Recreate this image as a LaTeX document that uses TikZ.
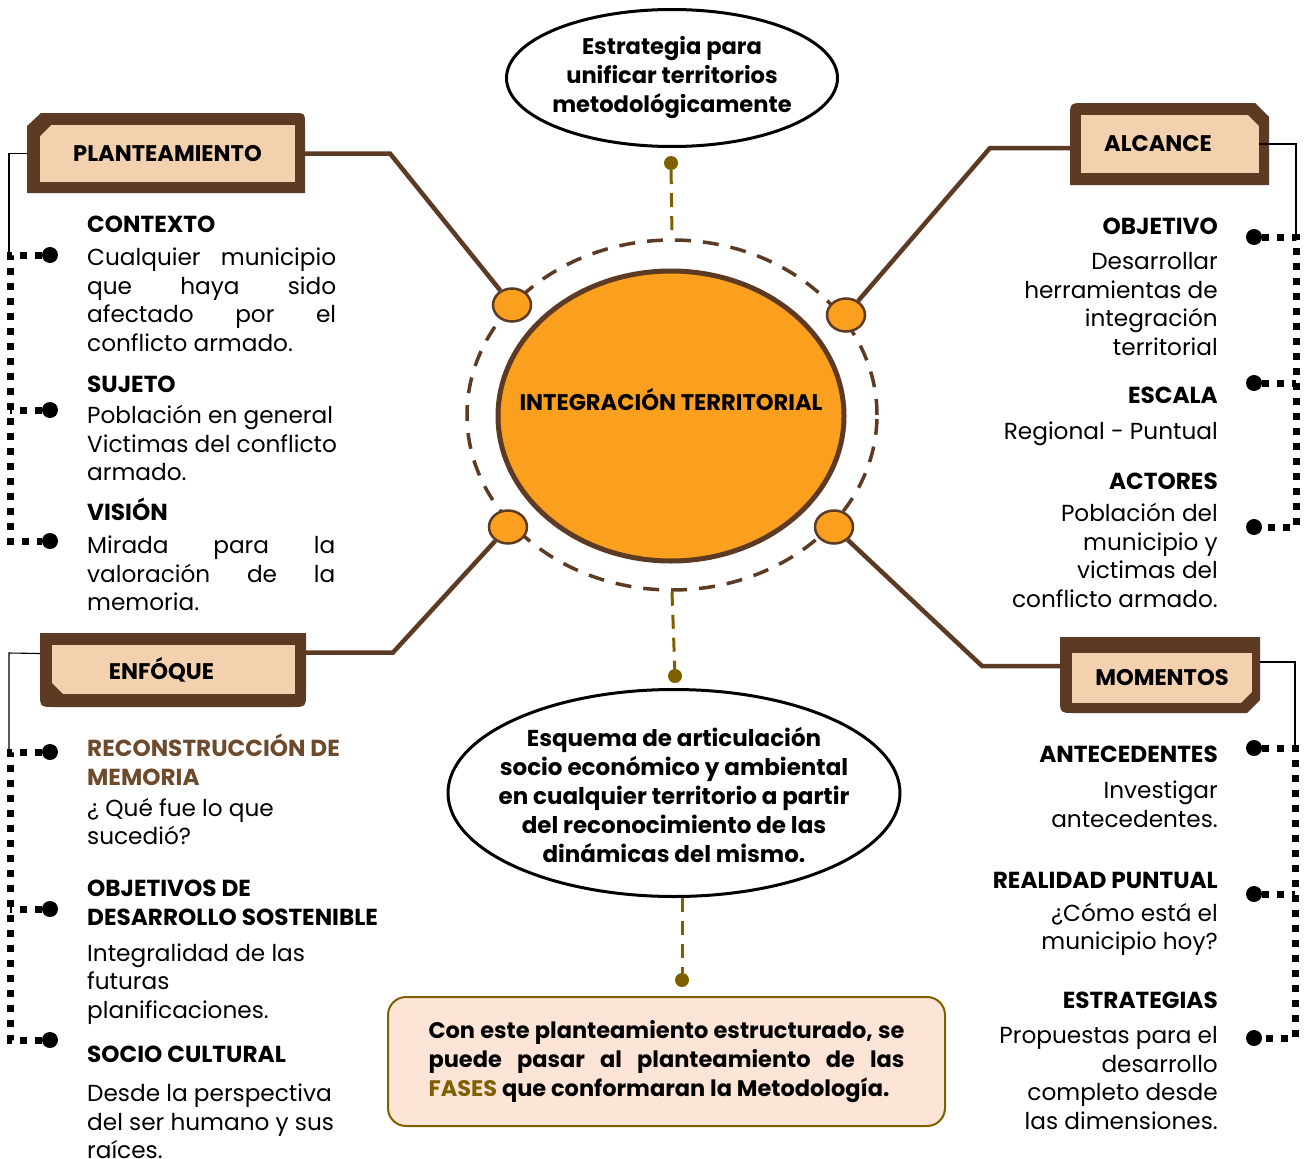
\documentclass[tikz,border=0pt]{standalone}
\usepackage{fontspec}
\setmainfont{Poppins}
\usepackage{tikz}
\usetikzlibrary{shapes.geometric, positioning, calc}

\definecolor{cafe}{HTML}{5C3A24}
\definecolor{durazno}{HTML}{F3D1AF}
\definecolor{naranja}{HTML}{FA9F1E}
\definecolor{oliva}{HTML}{7F6000}
\definecolor{rosado}{HTML}{FCE4D6}
\definecolor{marron}{HTML}{6E4A2C}

\begin{document}
\begin{tikzpicture}[
    x=1pt, y=-1pt,
    rama/.style={draw=cafe, line width=4.5pt},
    hilo/.style={draw=black, line width=1.1pt},
    punteado/.style={draw=black, line width=7pt, dash pattern=on 7pt off 8pt},
    guia/.style={draw=oliva, line width=3pt, dash pattern=on 14pt off 9pt},
    knob/.style={ellipse, draw=cafe, line width=2.5pt, fill=naranja, minimum width=38, minimum height=33, inner sep=0pt},
    punto/.style={circle, fill=black, minimum size=16, inner sep=0pt},
    ancla/.style={circle, fill=oliva, minimum size=14, inner sep=0pt},
    cabeza/.style={fill=durazno, inner sep=0pt, font=\fontsize{22.6}{26}\selectfont\bfseries},
    item/.style={inner sep=0pt, font=\fontsize{23.2}{28.7}\selectfont},
    globo/.style={ellipse, draw=black, line width=3pt, fill=white, inner sep=0pt},
    globo_txt/.style={align=center, inner sep=0pt, font=\fontsize{23}{29}\selectfont\bfseries}
]
\useasboundingbox (0,0) rectangle (1307,1159);

% Center: dashed ring, main ellipse and the four knobs
\node[ellipse, draw=cafe, line width=3.5pt, dash pattern=on 16pt off 12pt, minimum width=410, minimum height=350] (anillo) at (672,415) {};
\node[ellipse, draw=cafe, line width=5pt, fill=naranja, minimum width=346, minimum height=290] (centro) at (671,416) {};
\node[font=\fontsize{22.6}{26}\selectfont\bfseries] (centro_txt) at ([yshift=16pt]centro.center) {INTEGRACIÓN TERRITORIAL};

\node[knob] (knob_nw) at (512,305) {};
\node[knob] (knob_ne) at (846,315) {};
\node[knob] (knob_sw) at (508,527) {};
\node[knob] (knob_se) at (834,527) {};

% Top and bottom bubbles
\node[globo, minimum width=331, minimum height=137] (estrategia) at (672,78) {};
\node[globo_txt, font=\fontsize{22.6}{29}\selectfont\bfseries] (estrategia_txt) at (estrategia.center) {Estrategia para\\ unificar territorios\\ metodológicamente};
\node[ancla] (ancla_a) at (671,163) {};

\node[ancla] (ancla_b) at (675,676) {};
\node[globo, minimum width=452, minimum height=207] (esquema) at (674,793) {};
\node[globo_txt] (esquema_txt) at ([yshift=-2pt]esquema.center) {Esquema de articulación\\ socio económico y ambiental\\ en cualquier territorio a partir\\ del reconocimiento de las\\ dinámicas del mismo.};
\node[ancla] (ancla_c) at (682,980) {};

\node[draw=oliva, line width=2pt, fill=rosado, rounded corners=18pt, minimum width=557, minimum height=129, align=left, font=\fontsize{22.5}{29}\selectfont\bfseries] (cierre) at (666.5,1061.5) {\makebox[476pt][s]{Con este planteamiento estructurado, se}\\ \makebox[476pt][s]{puede pasar al planteamiento de las}\\ \textcolor{oliva}{FASES} que conformaran la Metodología.};

% Header boxes (outer frame first, then the label)
\fill[cafe] (27,126) -- (41,113) -- (293,113) .. controls (305,113) .. (305,125) -- (305,193) -- (27,193) -- cycle;
\node[cabeza, minimum width=255, minimum height=57] (plan) at (167.5,153.5) {PLANTEAMIENTO};
\fill[cafe] (40,125) -- (51,125) -- (40,136) -- cycle;

\fill[cafe] (1070,118) .. controls (1070,103) .. (1085,103) -- (1255,103) -- (1269,117) -- (1269,185) -- (1070,185) -- cycle;
\node[cabeza, minimum width=178, minimum height=58] (alc) at (1170,144) {ALCANCE\kern24pt};
\fill[cafe] (1259,115) -- (1248,115) -- (1259,126) -- cycle;

\fill[cafe] (40,633) -- (306,633) -- (306,692) .. controls (306,707) .. (291,707) -- (55,707) .. controls (40,707) .. (40,692) -- cycle;
\node[cabeza, minimum width=243, minimum height=49] (enf) at (173.5,669.5) {ENFÓQUE\kern24pt};
\fill[cafe] (52,694) -- (52,683) -- (63,694) -- cycle;

\fill[cafe] (1060,637) -- (1260,637) -- (1260,700) -- (1247,713) -- (1075,713) .. controls (1060,713) .. (1060,698) -- cycle;
\node[cabeza, minimum width=180, minimum height=50] (mom) at (1162,678) {MOMENTOS};
\fill[cafe] (1252,703) -- (1241,703) -- (1252,692) -- cycle;

% Branches from the knobs to the headers
\draw[rama] (knob_nw) -- (390,153.5) -- (plan);
\draw[rama] (knob_ne) -- (990,148) -- ([yshift=-4pt]alc.west);
\draw[rama] (knob_sw) -- (393,652.5) -- ([yshift=17pt]enf.east);
\draw[rama] (knob_se) -- (982,666) -- ([yshift=12pt]mom.west);

% Guides
\draw[guia] (ancla_a) -- (anillo.north);
\draw[guia] (anillo.south) -- (ancla_b);
\draw[guia] (ancla_c |- esquema.south) -- (ancla_c);

% Left top: PLANTEAMIENTO items
\node[punto] (dot_ctx) at (50,255) {};
\node[punto] (dot_suj) at (50,410) {};
\node[punto] (dot_vis) at (50,541) {};
\draw[hilo] ([xshift=-13pt]plan.west) -- (9,153.5) -- (9,255);
\draw[punteado] (dot_ctx) -- (10,255) -- (10,541) -- (dot_vis);
\draw[punteado] (dot_suj) -- (10,410);

\node[item, anchor=north west, align=left] (ctx) at (87,216) {\textbf{CONTEXTO}\\[4pt]
  \makebox[249pt][s]{Cualquier municipio}\\
  \makebox[249pt][s]{que haya sido}\\
  \makebox[249pt][s]{afectado por el}\\
  conflicto armado.};
\node[item, anchor=north west, align=left] (suj) at (87,376) {\textbf{SUJETO}\\[2pt]
  Población en general\\ Victimas del conflicto\\ armado.};
\node[item, anchor=north west, align=left] (vis) at (87,498) {\textbf{VISIÓN}\\[4pt]
  \makebox[248pt][s]{Mirada para la}\\
  \makebox[248pt][s]{valoración de la}\\
  memoria.};

% Right top: ALCANCE items
\node[punto] (dot_obj) at (1254,237) {};
\node[punto] (dot_esc) at (1254,383) {};
\node[punto] (dot_act) at (1254,527) {};
\draw[hilo] (alc.east) -- (1296,144) -- (1296,237);
\draw[punteado] (dot_obj) -- (1296,237) -- (1296,527) -- (dot_act);
\draw[punteado] (dot_esc) -- (1296,383);

\node[item, anchor=north east, align=right] (obj) at (1218,218) {\textbf{OBJETIVO}\\[6pt]
  Desarrollar\\ herramientas de\\ integración\\ territorial};
\node[item, anchor=north east, align=right] (esc) at (1218,387) {\textbf{ESCALA}\\[7pt]
  Regional - Puntual};
\node[item, anchor=north east, align=right] (act) at (1218,473) {\textbf{ACTORES}\\[3pt]
  Población del\\ municipio y\\ victimas del\\ conflicto armado.};

% Left bottom: ENFOQUE items
\node[punto] (dot_rec) at (50,752) {};
\node[punto] (dot_ods) at (50,909) {};
\node[punto] (dot_soc) at (50,1040) {};
\draw[hilo] ([shift={(-12pt,16pt)}]enf.west) -- (9,653) -- (9,752);
\draw[punteado] (dot_rec) -- (10,752) -- (10,1040) -- (dot_soc);
\draw[punteado] (dot_ods) -- (10,909);

\node[item, anchor=north west, align=left] (rec) at (87,734) {\textbf{\textcolor{marron}{RECONSTRUCCIÓN DE}}\\
  \textbf{\textcolor{marron}{MEMORIA}}\\[2pt]
  ¿ Qué fue lo que\\ sucedió?};
\node[item, anchor=north west, align=left] (ods) at (87,880) {\textbf{OBJETIVOS DE}\\
  \textbf{DESARROLLO SOSTENIBLE}\\[7pt]
  Integralidad de las\\ futuras\\ planificaciones.};
\node[item, anchor=north west, align=left] (soc) at (87,1046) {\textbf{SOCIO CULTURAL}\\[10pt]
  Desde la perspectiva\\ del ser humano y sus\\ raíces.};

% Right bottom: MOMENTOS items
\node[punto] (dot_ant) at (1254,748) {};
\node[punto] (dot_rea) at (1254,894) {};
\node[punto] (dot_est) at (1254,1038) {};
\draw[hilo] ([shift={(8pt,16pt)}]mom.east) -- (1295,662) -- (1295,748);
\draw[punteado] (dot_ant) -- (1295,748) -- (1295,1038) -- (dot_est);
\draw[punteado] (dot_rea) -- (1295,894);

\node[item, anchor=north east, align=right] (ant) at (1218,746) {\textbf{ANTECEDENTES}\\[7pt]
  Investigar\\ antecedentes.};
\node[item, anchor=north east, align=right] (rea) at (1218,872) {\textbf{REALIDAD PUNTUAL}\\[4pt]
  ¿Cómo está el\\ municipio hoy?};
\node[item, anchor=north east, align=right] (est) at (1218,992) {\textbf{ESTRATEGIAS}\\[6pt]
  Propuestas para el\\ desarrollo\\ completo desde\\ las dimensiones.};

\end{tikzpicture}
\end{document}
